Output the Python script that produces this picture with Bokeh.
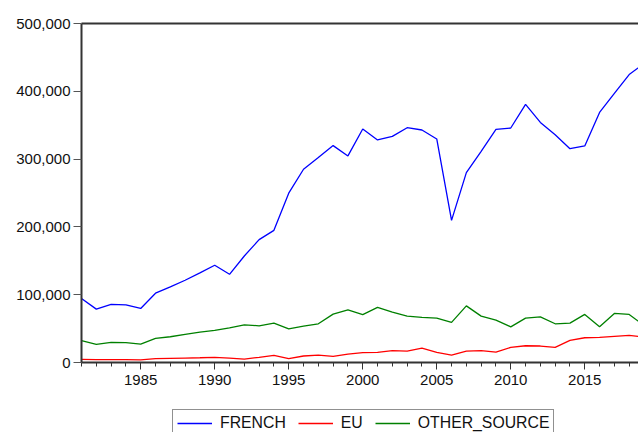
from bokeh.plotting import figure
from bokeh.layouts import column
from bokeh.models import (FixedTicker, NumeralTickFormatter, LinearAxis, Legend,
                          LegendItem, Range1d, ColumnDataSource)
from bokeh.embed import file_html
from bokeh.resources import INLINE

years = list(range(1981, 2020))
french = [94400, 78700, 85600, 85000, 79700, 102200, 111500, 121300, 132100, 143400,
          130100, 157100, 181200, 194900, 249700, 285000, 302200, 319900, 304700, 344400,
          328200, 333500, 346300, 342900, 329700, 209600, 280100, 311500, 343800, 345900,
          380600, 354100, 336000, 315400, 319400, 368800, 396800, 424700, 441000]
eu = [4700, 4100, 4200, 4200, 4000, 5600, 6000, 6500, 7000, 7600,
      6600, 5100, 7600, 10600, 5600, 9600, 11000, 9100, 12500, 14700,
      15000, 17400, 16900, 21300, 15000, 11000, 16900, 17400, 15400, 22300,
      24700, 24300, 22300, 32600, 36500, 37000, 38500, 40000, 37500]
other_source = [32100, 26700, 29700, 29200, 27200, 35600, 38000, 41500, 44900, 47300,
                51200, 55600, 54100, 58100, 49700, 53700, 57100, 71300, 77700, 70600,
                81200, 74300, 68400, 66500, 65400, 59100, 83500, 68400, 62500, 52600,
                65400, 67400, 57100, 58100, 70900, 52600, 72400, 70900, 54500]
x_major = [1985, 1990, 1995, 2000, 2005, 2010, 2015]
y_ticks = [0, 100000, 200000, 300000, 400000, 500000]
series_names = ["FRENCH", "EU", "OTHER_SOURCE"]
colors = ["#0000FF", "#FF0000", "#008000"]

FONT = "Liberation Sans"

src = ColumnDataSource(dict(year=years, french=french, eu=eu, other=other_source))

p = figure(width=638, height=400, output_backend="svg", toolbar_location=None,
           x_range=Range1d(1981, 2018.63), y_range=Range1d(0, 500000),
           min_border_left=81, min_border_top=23, min_border_right=0,
           min_border_bottom=38)
p.outline_line_color = None
p.grid.visible = False

p.line("year", "french", source=src, line_color=colors[0], line_width=1.3)
p.line("year", "eu", source=src, line_color=colors[1], line_width=1.3)
p.line("year", "other", source=src, line_color=colors[2], line_width=1.3)

xa = p.xaxis[0]
xa.ticker = FixedTicker(ticks=x_major, minor_ticks=years)
xa.axis_line_width = 2
xa.axis_line_color = "#333333"
xa.major_tick_out = 7
xa.major_tick_in = 0
xa.minor_tick_out = 4
xa.minor_tick_in = 0
xa.major_tick_line_color = "#333333"
xa.minor_tick_line_color = "#333333"
xa.major_label_text_font = FONT
xa.major_label_text_font_size = "15px"
xa.major_label_text_color = "#111111"
xa.major_label_standoff = 5

ya = p.yaxis[0]
ya.ticker = FixedTicker(ticks=y_ticks)
ya.formatter = NumeralTickFormatter(format="0,0")
ya.axis_line_width = 2
ya.axis_line_color = "#333333"
ya.major_tick_out = 8
ya.major_tick_in = 0
ya.minor_tick_line_color = None
ya.major_tick_line_color = "#555555"
ya.major_label_text_font = FONT
ya.major_label_text_font_size = "15px"
ya.major_label_text_color = "#111111"
ya.major_label_standoff = 3

top = LinearAxis(ticker=FixedTicker(ticks=[]), axis_line_width=2,
                 axis_line_color="#333333",
                 major_tick_line_color=None, minor_tick_line_color=None)
p.add_layout(top, "above")

# legend strip below the chart (key lines drawn off-screen, only their legend glyphs show)
lg = figure(width=638, height=32, output_backend="svg", toolbar_location=None,
            x_range=Range1d(0, 1), y_range=Range1d(0, 1),
            min_border_left=0, min_border_right=0, min_border_top=0,
            min_border_bottom=0)
lg.outline_line_color = None
lg.axis.visible = False
lg.grid.visible = False
rs = [lg.line([5, 6], [5, 6], line_color=c, line_width=1.3) for c in colors]

legend = Legend(items=[LegendItem(label=n, renderers=[r]) for n, r in zip(series_names, rs)],
                orientation="horizontal", location=(91, -5),
                label_text_font=FONT, label_text_font_size="15.8px",
                label_text_color="#111111",
                border_line_color="#222222", border_line_width=1,
                glyph_width=35, glyph_height=16, label_standoff=8, spacing=12,
                padding=4, margin=0, label_height=16)
lg.add_layout(legend, "center")

open("out.html", "w").write(file_html(column(p, lg, spacing=0), INLINE))
